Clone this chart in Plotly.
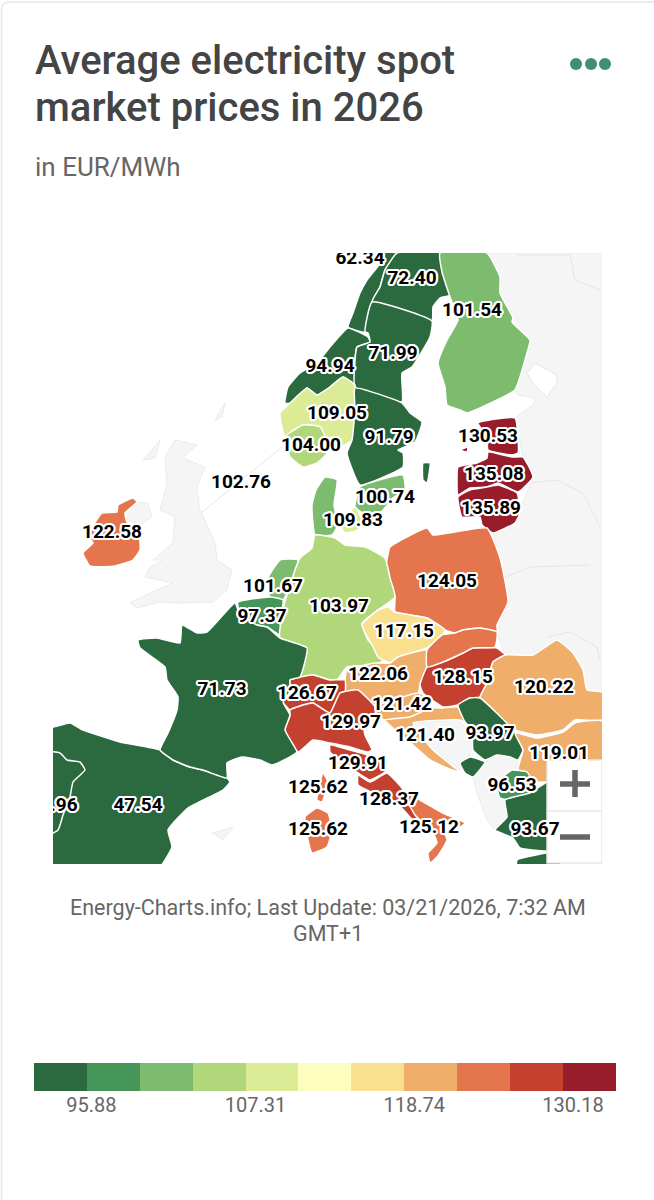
"""Average electricity spot prices map, redrawn as filled outlines on plain axes."""

import numpy as np
import plotly.graph_objects as go

PAGE_W, PAGE_H = 654, 1200
MAP_X = (53, 602)
MAP_Y = (253, 864)
BAR_Y = (1063, 1091)

# colour classes of the legend
BIN_EDGES = [92.07, 95.88, 99.69, 103.50, 107.31, 111.12, 114.93, 118.74, 122.55, 126.36, 130.18, 133.99]
BIN_COLORS = ['#2b6a3e', '#46965a', '#7dbc6e', '#b0d87b', '#dcec96', '#fefdc0',
              '#f9e08f', '#efae6a', '#e4754c', '#c5412f', '#981d2a']
TICK_VALUES = [95.88, 107.31, 118.74, 130.18]

# bidding zones with a price; the two without a readable label are estimated from their colour
ZONE_NAMES = ['NO4', 'SE1', 'FI', 'NO3', 'SE2', 'NO1', 'NO2', 'SE3', 'EE', 'LV', 'LT', 'SE4', 'DK1', 'DK2',
              'IE', 'PL', 'NL', 'BE', 'DE', 'CZ', 'AT', 'CH', 'IT-N', 'HU', 'SK', 'RO', 'SI', 'HR', 'RS',
              'BG', 'IT-CN', 'COR', 'MK', 'IT-CS', 'SAR', 'IT-S', 'GR', 'ME', 'ES', 'FR', 'PT']
ZONE_VALUES = [62.34, 72.40, 101.54, 94.94, 71.99, 109.05, 104.00, 91.79, 130.53, 135.08, 135.89, 100.74, 102.0, 109.83,
               122.58, 124.05, 101.67, 97.37, 103.97, 117.15, 122.06, 126.67, 129.97, 128.15, 125.0, 120.22, 121.42, 121.40, 93.97,
               119.01, 129.91, 125.62, 96.53, 128.37, 125.62, 125.12, 93.67, 93.97, 47.54, 71.73, 47.96]
UNLABELLED = {'DK1', 'SK', 'ME'}
EXTRA_LABEL = 102.76

# label anchors, map pixels
LABEL_POS = {
    'NO4': (360, 259), 'SE1': (412, 279), 'FI': (472, 311), 'NO3': (330, 367), 'SE2': (393, 354), 'NO1': (337, 414),
    'NO2': (311, 446), 'SE3': (389, 438), 'EE': (488, 437), 'LV': (494, 475), 'LT': (491, 509), 'SE4': (385, 498),
    'DK2': (353, 521), 'IE': (112, 533), 'PL': (447, 582), 'NL': (273, 587), 'BE': (262, 617), 'DE': (339, 607),
    'CZ': (404, 632), 'AT': (378, 675), 'CH': (307, 694), 'IT-N': (351, 723), 'HU': (463, 678), 'RO': (544, 688),
    'SI': (402, 705), 'HR': (425, 736), 'RS': (490, 734), 'BG': (559, 754), 'IT-CN': (358, 764), 'COR': (318, 788),
    'MK': (512, 786), 'IT-CS': (389, 800), 'SAR': (318, 830), 'IT-S': (429, 828), 'GR': (535, 830), 'ES': (138, 806),
    'FR': (222, 690), 'PT': (53, 806),
}
EXTRA_POS = (241, 483)

# outlines, in pixels
OUTLINES = {
    'NO4': [(378, 253), (397, 253), (385, 270), (380, 287), (372, 302), (365, 332), (348, 327), (353, 313), (360, 293), (367, 280), (380, 263)],
    'SE1': [(397, 253), (440, 253), (443, 272), (450, 295), (440, 298), (433, 307), (432, 321), (372, 302), (380, 287), (385, 270)],
    'FI': [(440, 253), (487, 253), (500, 277), (500, 293), (513, 318), (512, 322), (530, 340), (527, 353), (515, 390), (497, 400), (467, 413),
           (460, 410), (447, 405), (445, 387), (438, 363), (447, 340), (458, 320), (450, 297), (442, 272)],
    'NO3': [(285, 403), (288, 387), (300, 373), (317, 363), (330, 347), (348, 328), (368, 337), (370, 342), (357, 347), (355, 360), (355, 385),
            (343, 377), (330, 387), (317, 395), (307, 388), (297, 403)],
    'SE2': [(372, 302), (432, 321), (430, 337), (412, 367), (402, 373), (402, 402), (355, 387), (355, 360), (357, 347), (370, 342), (368, 333), (365, 332)],
    'NO1': [(280, 413), (290, 403), (307, 388), (317, 395), (330, 387), (343, 377), (355, 385), (355, 410), (352, 440), (345, 445), (330, 450),
            (320, 427), (303, 425), (285, 437)],
    'NO2': [(285, 437), (303, 425), (320, 427), (330, 450), (317, 463), (303, 467), (290, 457)],
    'SE3': [(355, 388), (402, 403), (410, 413), (422, 422), (415, 442), (398, 450), (403, 453), (403, 467), (360, 485), (347, 453), (352, 440), (355, 410),
            None, (423, 463), (430, 463), (427, 483), (423, 480)],
    'EE': [(478, 423), (515, 418), (518, 453), (512, 455), (488, 450), (487, 437), None, (460, 450), (468, 447), (467, 452)],
    'LV': [(457, 480), (458, 467), (477, 463), (487, 458), (488, 452), (512, 457), (523, 457), (533, 477), (518, 492), (498, 483), (487, 487), (470, 488), (458, 495)],
    'LT': [(458, 497), (470, 490), (487, 487), (498, 485), (517, 493), (520, 513), (515, 523), (493, 533), (482, 525), (480, 517), (462, 517)],
    'SE4': [(360, 487), (403, 475), (405, 490), (393, 498), (380, 513), (363, 513), (355, 507)],
    'DK1': [(325, 477), (337, 480), (334, 505), (338, 525), (332, 535), (315, 535), (312, 505), (316, 490)],
    'DK2': [(355, 507), (362, 520), (358, 530), (345, 533), (340, 525), (347, 515)],
    'IE': [(118, 505), (133, 498), (137, 502), (125, 513), (127, 522), (138, 527), (140, 550), (133, 560), (115, 566), (90, 566), (83, 553), (93, 543),
           (88, 535), (102, 513), (117, 512)],
    'PL': [(387, 560), (390, 547), (427, 528), (433, 535), (487, 528), (500, 558), (508, 602), (497, 625), (497, 632), (480, 628), (463, 630), (455, 633),
           (445, 630), (427, 618), (395, 612), (395, 597), (385, 570)],
    'NL': [(267, 580), (280, 560), (298, 560), (283, 600), (270, 597)],
    'BE': [(238, 602), (270, 597), (283, 600), (280, 623), (283, 637), (267, 627), (257, 625), (240, 615)],
    'DE': [(300, 558), (312, 548), (315, 535), (335, 538), (345, 545), (365, 547), (385, 558), (390, 578), (395, 597), (378, 610), (362, 623), (368, 640),
           (380, 650), (388, 657), (375, 665), (347, 667), (337, 680), (330, 680), (313, 675), (300, 677), (307, 648), (280, 638), (283, 610), (290, 585)],
    'CZ': [(362, 625), (378, 610), (388, 607), (395, 612), (427, 618), (445, 630), (442, 635), (427, 648), (398, 657), (390, 663), (378, 657), (373, 647)],
    'AT': [(345, 680), (347, 670), (375, 663), (390, 663), (398, 657), (427, 650), (427, 667), (420, 685), (418, 693), (375, 707), (358, 690), (345, 692)],
    'CH': [(290, 680), (300, 677), (313, 675), (330, 680), (345, 680), (345, 692), (340, 693), (330, 713), (313, 703), (303, 705), (290, 710), (283, 702), (290, 692)],
    'IT-N': [(290, 710), (303, 705), (313, 703), (330, 713), (340, 693), (358, 690), (375, 707), (375, 715), (363, 720), (365, 735), (372, 750), (368, 752),
             (350, 747), (330, 743), (313, 740), (298, 752), (285, 730), (290, 715)],
    'HU': [(427, 667), (443, 662), (463, 653), (473, 648), (497, 648), (505, 655), (493, 662), (487, 683), (480, 697), (470, 698), (458, 705), (443, 707),
           (423, 693), (420, 685)],
    'SK': [(427, 650), (442, 635), (455, 633), (463, 630), (480, 628), (497, 632), (495, 647), (473, 648), (463, 653), (443, 662), (427, 667)],
    'RO': [(493, 662), (505, 655), (533, 655), (557, 640), (573, 653), (583, 670), (587, 690), (602, 692), (602, 720), (575, 720), (563, 730), (537, 735),
           (515, 730), (483, 703), (480, 697), (487, 683)],
    'SI': [(375, 707), (418, 693), (423, 695), (430, 708), (410, 717), (385, 720), (378, 717)],
    'HR': [(430, 708), (443, 708), (458, 707), (465, 722), (460, 720), (413, 723), (433, 750), (460, 772), (452, 770), (430, 760), (413, 745), (395, 730),
           (385, 720), (410, 717)],
    'RS': [(458, 705), (470, 698), (480, 698), (515, 732), (523, 750), (518, 760), (510, 757), (497, 755), (485, 760), (473, 750), (472, 730), (465, 722)],
    'BG': [(515, 733), (537, 738), (563, 732), (575, 723), (602, 721), (602, 785), (547, 782), (533, 782), (518, 770), (523, 750)],
    'IT-CN': [(330, 745), (350, 750), (368, 755), (387, 767), (385, 772), (370, 780), (358, 773), (350, 768), (340, 760), (330, 752)],
    'COR': [(320, 783), (323, 773), (328, 782), (322, 802), (317, 800)],
    'MK': [(497, 787), (503, 777), (512, 770), (527, 772), (533, 783), (530, 793), (513, 800), (500, 798)],
    'IT-CS': [(358, 775), (370, 782), (387, 773), (402, 788), (418, 818), (413, 820), (397, 803), (373, 793), (358, 785)],
    'SAR': [(305, 817), (317, 808), (328, 813), (332, 830), (327, 847), (312, 853), (308, 840)],
    'IT-S': [(402, 790), (420, 800), (443, 813), (465, 823), (460, 827), (440, 820), (447, 840), (437, 857), (430, 863), (428, 853), (437, 843), (430, 827), (420, 820), (415, 815)],
    'GR': [(495, 830), (507, 817), (505, 800), (530, 793), (547, 782), (560, 782), (560, 850), (520, 848), (513, 838), None, (517, 860), (560, 852), (560, 870), (517, 870)],
    'ME': [(460, 763), (470, 757), (485, 762), (473, 777), (465, 773)],
    'ES': [(40, 727), (53, 727), (70, 723), (83, 730), (120, 742), (160, 750), (173, 760), (190, 767), (203, 770), (227, 778), (230, 782), (223, 790), (188, 808),
           (168, 830), (172, 847), (157, 870), (40, 870)],
    'FR': [(235, 603), (207, 632), (197, 633), (182, 625), (180, 643), (157, 638), (138, 640), (140, 648), (165, 667), (167, 680), (178, 697), (177, 710), (168, 733),
           (160, 750), (173, 760), (190, 767), (203, 770), (227, 778), (227, 763), (242, 757), (260, 760), (272, 765), (290, 757), (297, 752), (285, 730), (290, 715),
           (283, 702), (290, 692), (290, 680), (300, 677), (307, 648), (280, 638), (267, 627), (257, 625), (240, 615)],
    'PT': [(40, 752), (60, 753), (67, 760), (80, 762), (85, 770), (73, 782), (70, 797), (63, 815), (58, 830), (40, 838)],
}

# countries without data, light grey
NO_DATA_LAND = [
    [(487, 253), (602, 253), (602, 692), (587, 690), (557, 640), (533, 655), (505, 655), (497, 632), (508, 602), (500, 558), (493, 533), (515, 523), (533, 477),
     (523, 457), (515, 418), (533, 405), (535, 398), (518, 395), (515, 390)],
    [(175, 440), (197, 445), (183, 458), (205, 467), (197, 487), (200, 510), (215, 543), (217, 560), (232, 570), (227, 590), (213, 602), (177, 603), (160, 602), (137, 608),
     (130, 603), (150, 593), (173, 583), (145, 577), (150, 567), (163, 560), (153, 560), (173, 543), (175, 517), (160, 510), (167, 483), (165, 457)],
    [(122, 513), (135, 502), (148, 503), (152, 517), (140, 525), (127, 520)],
    [(413, 723), (460, 720), (472, 740), (470, 755), (460, 763), (460, 770), (433, 750)],
    [(473, 777), (485, 762), (497, 755), (510, 757), (518, 760), (518, 770), (503, 777), (497, 787), (500, 798), (505, 800), (507, 817), (495, 830), (487, 820), (477, 793)],
    [(212, 833), (233, 827), (223, 840)],
    [(215, 420), (225, 403), (222, 417)],
    [(143, 460), (160, 440), (155, 458)],
]
LAKE = [(527, 373), (535, 363), (557, 375), (557, 383), (547, 397), (533, 383)]
NO_DATA_BORDERS = [
    [(530, 483), (557, 480), (583, 493), (600, 527)],
    [(505, 577), (530, 567), (590, 565)],
    [(547, 637), (570, 632), (597, 647), (600, 660)],
    [(517, 255), (570, 255), (575, 280), (600, 290)],
    [(201, 513), (282, 447)],
]
ZOOM_BOX_X = [547, 602, 602, 547, 547]
ZOOM_BOX_Y = [760, 760, 863, 863, 760]


def unzip(points):
    xs = [p[0] if p else None for p in points]
    ys = [p[1] if p else None for p in points]
    return xs, ys


def close_rings(points):
    rings, ring = [], []
    for p in points + [None]:
        if p is None:
            rings += ring + [ring[0], None]
            ring = []
        else:
            ring.append(p)
    return rings


def px_x(x):
    return x / PAGE_W


def px_y(y):
    return 1 - y / PAGE_H


fig = go.Figure()

# no-data land goes first so the priced zones sit on top
for ring in NO_DATA_LAND:
    xs, ys = unzip(close_rings(ring))
    fig.add_trace(go.Scatter(x=xs, y=ys, mode='lines', fill='toself', fillcolor='#f5f5f6',
                             line=dict(color='#ebebed', width=1), hoverinfo='skip'))
for seg in NO_DATA_BORDERS:
    xs, ys = unzip(seg)
    fig.add_trace(go.Scatter(x=xs, y=ys, mode='lines', line=dict(color='#e6e6e8', width=1), hoverinfo='skip'))
xs, ys = unzip(close_rings(LAKE))
fig.add_trace(go.Scatter(x=xs, y=ys, mode='lines', fill='toself', fillcolor='white',
                         line=dict(color='#e6e6e8', width=1), hoverinfo='skip'))

bins = np.clip(np.digitize(ZONE_VALUES, BIN_EDGES) - 1, 0, len(BIN_COLORS) - 1)
for name, value, b in zip(ZONE_NAMES, ZONE_VALUES, bins):
    xs, ys = unzip(close_rings(OUTLINES[name]))
    fig.add_trace(go.Scatter(x=xs, y=ys, mode='lines', fill='toself', fillcolor=BIN_COLORS[b],
                             line=dict(color='white', width=1.5, shape='spline', smoothing=0.4), name=name,
                             hovertemplate=f'{name}: {value:.2f}<extra></extra>'))

# zoom control box, the Greek label runs over it
fig.add_trace(go.Scatter(x=ZOOM_BOX_X, y=ZOOM_BOX_Y, mode='lines', fill='toself', fillcolor='white',
                         line=dict(color='#e9e9e9', width=1.5), hoverinfo='skip'))

labelled = [(n, v) for n, v in zip(ZONE_NAMES, ZONE_VALUES) if n not in UNLABELLED]
label_x = [LABEL_POS[n][0] for n, _ in labelled] + [EXTRA_POS[0]]
label_y = [LABEL_POS[n][1] for n, _ in labelled] + [EXTRA_POS[1]]
label_text = [f'{v:.2f}' for _, v in labelled] + [f'{EXTRA_LABEL:.2f}']
halo = ','.join(f'{dx}px {dy}px 0 #fff' for dx, dy in
                [(-2, 0), (2, 0), (0, -2), (0, 2), (-2, -1), (2, 1), (-2, 1), (2, -1), (-1, -2), (1, 2), (-1, 2), (1, -2)])
fig.add_trace(go.Scatter(x=label_x, y=label_y, mode='text', text=label_text, textposition='middle center',
                         textfont=dict(family='Roboto', size=19, color='black', weight=700, shadow=halo),
                         cliponaxis=True, hoverinfo='skip'))

# legend strip
mids = [(a + b) / 2 for a, b in zip(BIN_EDGES[:-1], BIN_EDGES[1:])]
widths = [b - a for a, b in zip(BIN_EDGES[:-1], BIN_EDGES[1:])]
fig.add_trace(go.Bar(x=mids, y=[1] * len(mids), width=widths, marker=dict(color=BIN_COLORS, line_width=0),
                     xaxis='x2', yaxis='y2', hoverinfo='skip'))

shapes = [
    # card border
    dict(type='path', xref='paper', yref='paper', line=dict(color='#e6e6e6', width=1.5),
         path=f'M {px_x(1.5)},{px_y(1300)} L {px_x(1.5)},{px_y(10)} Q {px_x(1.5)},{px_y(2)} {px_x(10)},{px_y(2)} L {px_x(700)},{px_y(2)}'),
]
# the three menu dots
for cx in (576, 591, 605):
    shapes.append(dict(type='circle', xref='paper', yref='paper', fillcolor='#3f8f74', line_width=0,
                       x0=px_x(cx - 6), x1=px_x(cx + 6), y0=px_y(70), y1=px_y(58)))
# plus and minus of the zoom control
glyph = dict(type='line', xref='paper', yref='paper', line=dict(color='#666666', width=5.5))
shapes += [
    dict(glyph, x0=px_x(560), x1=px_x(590), y0=px_y(784), y1=px_y(784)),
    dict(glyph, x0=px_x(575), x1=px_x(575), y0=px_y(770), y1=px_y(797)),
    dict(glyph, x0=px_x(560), x1=px_x(590), y0=px_y(837), y1=px_y(837)),
    dict(type='line', xref='paper', yref='paper', line=dict(color='#e9e9e9', width=1.5),
         x0=px_x(547), x1=px_x(602), y0=px_y(811), y1=px_y(811)),
]

note = dict(xref='paper', yref='paper', showarrow=False, yanchor='middle')
title_font = dict(family='Roboto', size=40, color='#444444', weight=500)
foot_font = dict(family='Roboto', size=21.5, color='#666666')
annotations = [
    dict(note, text='Average electricity spot', x=px_x(33), y=px_y(60), xanchor='left', font=title_font),
    dict(note, text='market prices in 2026', x=px_x(33), y=px_y(108), xanchor='left', font=title_font),
    dict(note, text='in EUR/MWh', x=px_x(33), y=px_y(167), xanchor='left', font=dict(family='Roboto', size=26, color='#666666')),
    dict(note, text='Energy-Charts.info; Last Update: 03/21/2026, 7:32 AM', x=px_x(328), y=px_y(907), xanchor='center', font=foot_font),
    dict(note, text='GMT+1', x=px_x(328), y=px_y(933), xanchor='center', font=foot_font),
]

# the first tick text is one digit shorter, a figure space keeps it in line with the others
tick_text = [f'{t:.2f}' + ('\u2007' if t < 100 else '') for t in TICK_VALUES]

fig.update_layout(
    width=PAGE_W, height=PAGE_H, margin=dict(l=0, r=0, t=0, b=0),
    paper_bgcolor='white', plot_bgcolor='rgba(0,0,0,0)', showlegend=False, bargap=0,
    xaxis=dict(domain=[px_x(MAP_X[0]), px_x(MAP_X[1])], range=list(MAP_X), visible=False, fixedrange=True),
    yaxis=dict(domain=[px_y(MAP_Y[1]), px_y(MAP_Y[0])], range=[MAP_Y[1], MAP_Y[0]], visible=False, fixedrange=True),
    xaxis2=dict(domain=[px_x(34), px_x(616)], anchor='y2', range=[BIN_EDGES[0], BIN_EDGES[-1]], showgrid=False, zeroline=False, showline=False,
                tickvals=TICK_VALUES, ticktext=tick_text, ticks='', ticklabelshift=10,
                tickfont=dict(family='Roboto', size=20, color='#666666'), fixedrange=True),
    yaxis2=dict(domain=[px_y(BAR_Y[1]), px_y(BAR_Y[0])], anchor='x2', range=[0, 1], visible=False, fixedrange=True),
    shapes=shapes, annotations=annotations,
)

fig.write_html('out.html', config=dict(displayModeBar=False),
               post_script="document.body.style.margin='0';")
